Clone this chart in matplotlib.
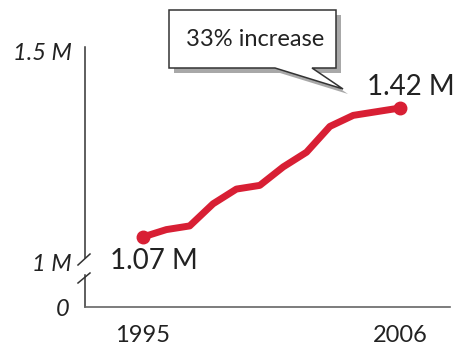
import matplotlib
matplotlib.use('Agg')
import matplotlib.pyplot as plt
from matplotlib.patches import Polygon

plt.rcParams['font.family'] = ['Lato', 'DejaVu Sans']

# yearly totals, in millions
years = [1995, 1996, 1997, 1998, 1999, 2000, 2001, 2002, 2003, 2004, 2005, 2006]
totals = [1.07, 1.09, 1.10, 1.16, 1.20, 1.21, 1.26, 1.30, 1.37, 1.40, 1.41, 1.42]
xtick_years = [1995, 2006]

RED = '#d81f34'
INK = '#222222'
W, H = 454, 347


def px(x, y):
    # pixel position (from top-left) -> figure fraction
    return x / W, 1 - y / H


fig = plt.figure(figsize=(W / 100, H / 100), dpi=100)
ax = fig.add_axes([85 / W, 1 - 307 / H, 365 / W, 260 / H])
ax.set_xlim(1992.52, 2008.14)
ax.set_ylim(0.880, 1.5855)

# main line with dots at both ends
ax.plot(years, totals, color=RED, lw=5, solid_capstyle='round',
        solid_joinstyle='round', marker='o', markersize=9,
        markevery=[0, len(years) - 1], zorder=3)

# end labels
ax.annotate(f'{totals[0]:.2f} M', (years[0], totals[0]), xytext=(-24, -23),
            textcoords='offset points', ha='left', va='baseline',
            fontsize=20, color=INK)
ax.annotate(f'{totals[-1]:.2f} M', (years[-1], totals[-1]), xytext=(-24, 9.5),
            textcoords='offset points', ha='left', va='baseline',
            fontsize=20, color=INK)

# axes: broken y axis, grey baseline
for side in ('top', 'right'):
    ax.spines[side].set_visible(False)
ax.spines['left'].set_bounds(1.013, 1.5855)
ax.spines['left'].set_color('#333333')
ax.spines['left'].set_linewidth(1.1)
ax.spines['bottom'].set_color('#666666')
ax.spines['bottom'].set_linewidth(1.2)
brk = dict(transform=ax.transAxes, clip_on=False, color='#333333', lw=1.1)
ax.plot([0, 0], [0, 0.123], **brk)
ax.plot([-0.0192, 0.0137], [0.1615, 0.2038], **brk)
ax.plot([-0.0192, 0.0137], [0.0923, 0.1308], **brk)

ax.set_xticks(xtick_years, [str(y) for y in xtick_years], fontsize=17, color=INK)
ax.set_yticks([1.0], ['1 M'], fontsize=17, fontstyle='italic', color=INK)
ax.tick_params(axis='x', length=0, pad=13)
ax.tick_params(axis='y', length=0, pad=9.5)
ax.text(-0.0356, 0.975, '1.5 M', transform=ax.transAxes, ha='right', va='center',
        fontsize=17, fontstyle='italic', color=INK)
ax.text(-0.041, -0.008, '0', transform=ax.transAxes, ha='right', va='center',
        fontsize=17, fontstyle='italic', color=INK)

# speech-bubble callout with drop shadow
change = round((totals[-1] / totals[0] - 1) * 100)
bubble = [(169, 10), (336, 10), (336, 68), (312, 68), (343, 89), (275, 68), (169, 68)]
shadow = [(x + 5, y + 5) for x, y in bubble]
fig.add_artist(Polygon([px(x, y) for x, y in shadow], closed=True,
                       transform=fig.transFigure, facecolor='#a8a8a8',
                       edgecolor='none', zorder=4))
fig.add_artist(Polygon([px(x, y) for x, y in bubble], closed=True,
                       transform=fig.transFigure, facecolor='white',
                       edgecolor='#333333', lw=1.1, zorder=5))
tx, ty = px(255, 40)
fig.text(tx, ty, f'{change}% increase', ha='center', va='center',
         fontsize=17, color=INK, zorder=6)

fig.savefig('out.png', dpi=100)
